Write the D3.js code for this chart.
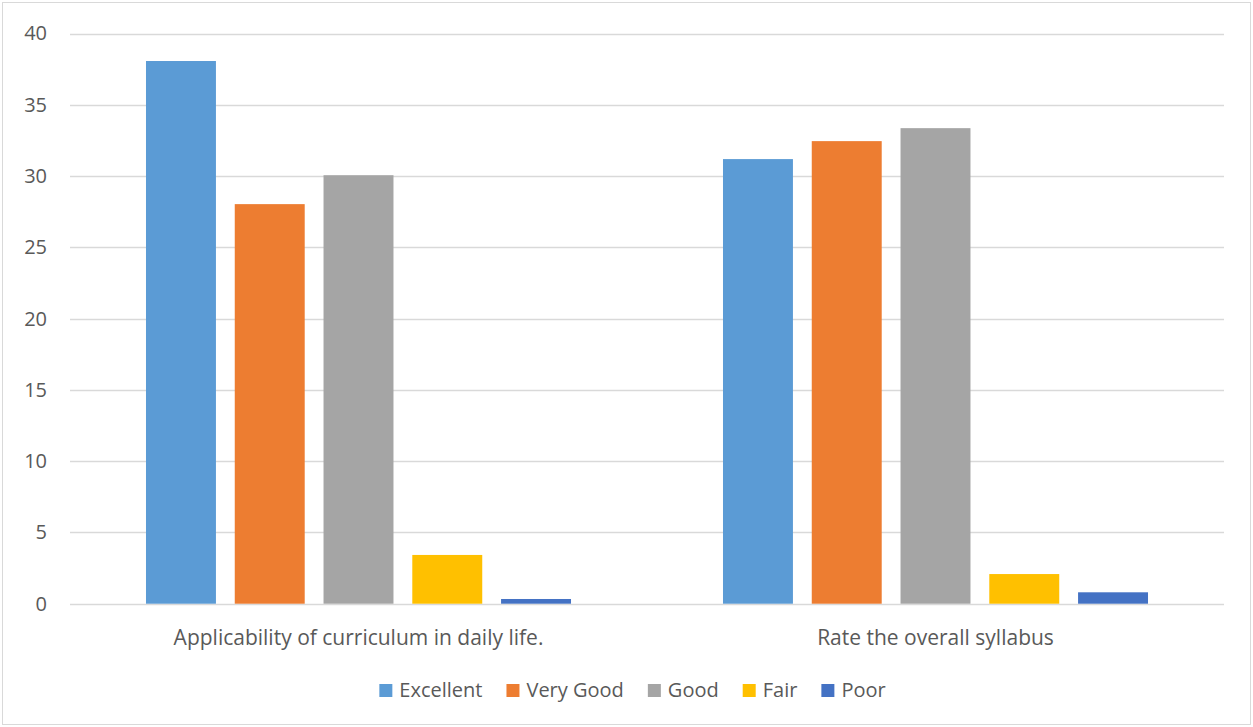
<!DOCTYPE html>
<html><head><meta charset="utf-8">
<script src="https://cdn.jsdelivr.net/npm/d3@7"></script>
<style>body{margin:0;background:#fff;} svg{display:block;}</style>
</head><body>
<svg id="chart" width="1253" height="727"></svg>
<script>
const categories = ["Applicability of curriculum in daily life.", "Rate the overall syllabus"];
const seriesNames = ["Excellent", "Very Good", "Good", "Fair", "Poor"];
const excellent = [38.07, 31.19];
const veryGood = [28.03, 32.45];
const good = [30.06, 33.36];
const fair = [3.42, 2.08];
const poor = [0.33, 0.8];
const yTicks = [0, 5, 10, 15, 20, 25, 30, 35, 40];
const colors = ["#5B9BD5", "#ED7D31", "#A5A5A5", "#FFC000", "#4472C4"];

(function(){
const seriesValues = [excellent, veryGood, good, fair, poor];
const data = categories.map((c, i) => ({cat: c, vals: seriesNames.map((s, j) => ({s, v: seriesValues[j][i], color: colors[j]}))}));

const font = "'Open Sans', Lato, sans-serif";
const svg = d3.select("#chart");
svg.append("rect").attr("x", 2.5).attr("y", 2.5).attr("width", 1248).attr("height", 722)
  .attr("fill", "#fff").attr("stroke", "#D9D9D9").attr("stroke-width", 1);

const pLeft = 70, pRight = 1224, pTop = 33.5, pBottom = 603.7;
const y = d3.scaleLinear().domain([0, 40]).range([pBottom, pTop]);
const x0 = d3.scaleBand().domain(categories).range([pLeft, pRight]).padding(0);
const x1 = d3.scaleBand().domain(seriesNames).range([0, x0.bandwidth()]).paddingInner(0.212).paddingOuter(0.856);

svg.append("g").selectAll("line").data(yTicks).join("line")
  .attr("x1", pLeft).attr("x2", pRight)
  .attr("y1", d => Math.round(y(d)) + 0.5).attr("y2", d => Math.round(y(d)) + 0.5)
  .attr("stroke", "#D9D9D9").attr("stroke-width", 1.3);

const yAxis = d3.axisLeft(y).tickValues(yTicks).tickSize(0).tickPadding(0);
const yg = svg.append("g").attr("transform", `translate(47,0)`).call(yAxis);
yg.select(".domain").remove();
yg.selectAll("text").attr("font-family", font).attr("font-size", 20).attr("fill", "#595959");

const groups = svg.append("g").selectAll("g").data(data).join("g")
  .attr("transform", d => `translate(${x0(d.cat)},0)`);
groups.selectAll("rect").data(d => d.vals).join("rect")
  .attr("x", d => x1(d.s)).attr("width", x1.bandwidth())
  .attr("y", d => y(d.v)).attr("height", d => y(0) - y(d.v))
  .attr("fill", d => d.color);

const xAxis = d3.axisBottom(x0).tickSize(0).tickPadding(0);
const xg = svg.append("g").attr("transform", `translate(0,${pBottom + 26})`).call(xAxis);
xg.select(".domain").remove();
xg.selectAll("text").attr("font-family", font).attr("font-size", 21).attr("fill", "#595959");

const lg = svg.append("g");
const items = [];
seriesNames.forEach((s, i) => {
  const g = lg.append("g");
  g.append("rect").attr("x", 0).attr("y", -6).attr("width", 13).attr("height", 13).attr("fill", colors[i]);
  const t = g.append("text").attr("x", 20).attr("y", 0).attr("dy", "0.35em").text(s)
    .attr("font-family", font).attr("font-size", 20).attr("fill", "#595959");
  const w = 20 + t.node().getComputedTextLength();
  items.push({g, w});
});
const gap = 24;
const total = d3.sum(items, d => d.w) + gap * (items.length - 1);
let start = (1253 - total) / 2 + 6;
items.forEach(it => { it.g.attr("transform", `translate(${start},690)`); start += it.w + gap; });
})();
</script>
</body></html>
